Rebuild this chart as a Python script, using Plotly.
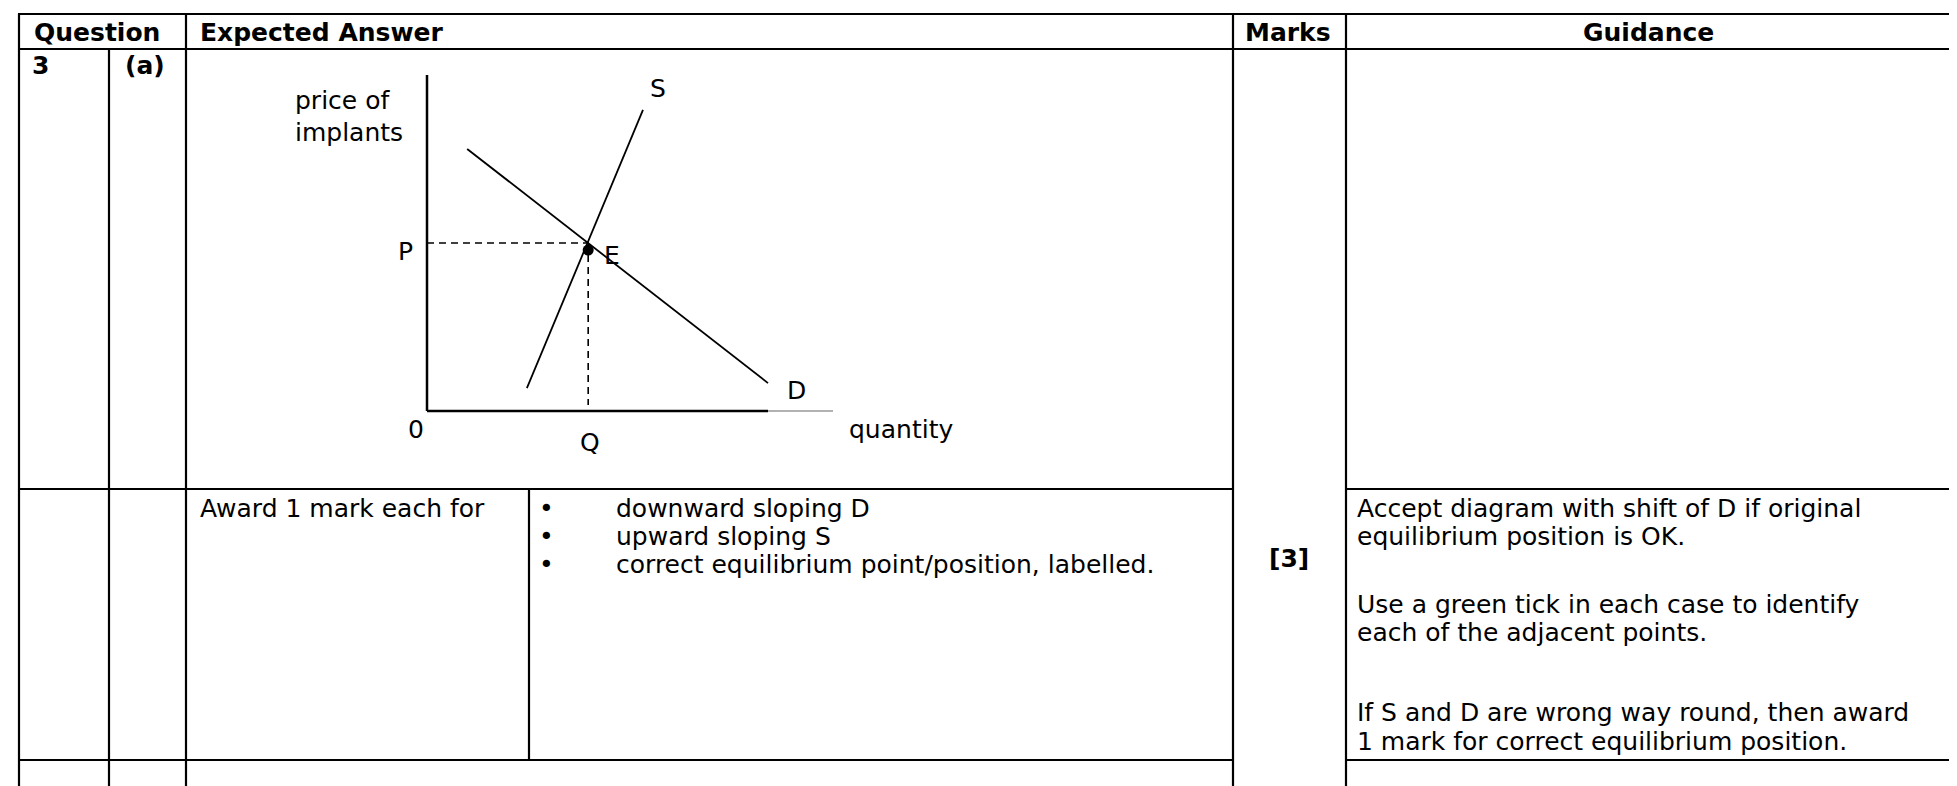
import plotly.graph_objects as go

W, H = 1957, 786

# ---------------- table content ----------------
header_labels = ["Question", "Expected Answer", "Marks", "Guidance"]
question_number = "3"
question_part = "(a)"
award_intro = "Award 1 mark each for"
award_points = [
    "downward sloping D",
    "upward sloping S",
    "correct equilibrium point/position, labelled.",
]
marks_text = "[3]"
guidance_lines = [
    "Accept diagram with shift of D if original",
    "equilibrium position is OK.",
    "Use a green tick in each case to identify",
    "each of the adjacent points.",
    "If S and D are wrong way round, then award",
    "1 mark for correct equilibrium position.",
]

# ---------------- diagram data (quantity / price units) ----------------
supply_q = [2.46, 5.32]
supply_p = [0.68, 8.96]
demand_q = [0.99, 8.40]
demand_p = [7.80, 0.83]
equilibrium_q = 3.97
equilibrium_p = 5.0
dot_q = [3.97]
dot_p = [4.79]
axis_top_p = 10.0
axis_end_q = 8.40
axis_ext_q = 10.0
q_dash_bottom_p = 0.18
y_axis_label = ["price of", "implants"]
x_axis_label = "quantity"
origin_label = "0"
price_label = "P"
quantity_label = "Q"
eq_label = "E"
supply_label = "S"
demand_label = "D"

# ---------------- layout constants (pixels) ----------------
FONT = "DejaVu Sans"
FS = 25
LINE = "black"
X_LEFT, X_Q2, X_EXP, X_INNER, X_MARKS, X_GUID, X_RIGHT = 11, 101, 178, 521, 1225, 1338, 1952
Y_TOP, Y_HEAD, Y_R1, Y_R2 = 6, 41, 481, 752


def fx(x):
    return x / W


def fy(y):
    return 1 - y / H


fig = go.Figure()

# diagram axes geometry: q=0 at px 419, q=10 at px 825 ; p=0 at px 403, p=10 at px 67
qpx = (825 - 419) / 10.0
ppx = (403 - 67) / 10.0
xr = [-4.0, 11.8]
yr = [-1.6, 10.6]
x_dom = [fx(419 + xr[0] * qpx), fx(419 + xr[1] * qpx)]
y_dom = [fy(403 - yr[0] * ppx), fy(403 - yr[1] * ppx)]

# axes lines
fig.add_trace(go.Scatter(x=[0, 0], y=[0, axis_top_p], mode="lines",
                         line=dict(color="black", width=2.5), hoverinfo="skip"))
fig.add_trace(go.Scatter(x=[0, axis_end_q], y=[0, 0], mode="lines",
                         line=dict(color="black", width=2.5), hoverinfo="skip"))
fig.add_trace(go.Scatter(x=[axis_end_q, axis_ext_q], y=[0, 0], mode="lines",
                         line=dict(color="#666666", width=1.2), hoverinfo="skip"))
# dashed guides
fig.add_trace(go.Scatter(x=[0, equilibrium_q], y=[equilibrium_p, equilibrium_p], mode="lines",
                         line=dict(color="black", width=1.6, dash="7px,5px"), hoverinfo="skip"))
fig.add_trace(go.Scatter(x=[equilibrium_q, equilibrium_q], y=[equilibrium_p, q_dash_bottom_p], mode="lines",
                         line=dict(color="black", width=1.6, dash="7px,5px"), hoverinfo="skip"))
# supply & demand
fig.add_trace(go.Scatter(x=supply_q, y=supply_p, mode="lines",
                         line=dict(color="black", width=1.8), hoverinfo="skip"))
fig.add_trace(go.Scatter(x=demand_q, y=demand_p, mode="lines",
                         line=dict(color="black", width=1.8), hoverinfo="skip"))
# equilibrium dot
fig.add_trace(go.Scatter(x=dot_q, y=dot_p, mode="markers",
                         marker=dict(color="black", size=11), hoverinfo="skip", cliponaxis=False))

annotations = []


def add_text(text, x, y, xanchor="left", size=FS, ref="paper"):
    annotations.append(dict(text=text, x=x, y=y, xref=ref if ref == "paper" else "x",
                            yref=ref if ref == "paper" else "y",
                            xanchor=xanchor, yanchor="middle", showarrow=False,
                            font=dict(family=FONT, size=size, color="black")))


# diagram labels (data coordinates)
add_text(supply_label, supply_q[1] + 0.37, supply_p[1] + 0.65, "center", ref="data")
add_text(demand_label, demand_q[1] + 0.71, demand_p[1] - 0.23, "center", ref="data")
add_text(price_label, -0.52, equilibrium_p - 0.24, "center", ref="data")
add_text(eq_label, equilibrium_q + 0.59, equilibrium_p - 0.36, "center", ref="data")
add_text(origin_label, -0.27, -0.55, "center", ref="data")
add_text(quantity_label, equilibrium_q + 0.04, -0.93, "center", ref="data")
add_text(x_axis_label, 10.35, -0.55, "left", ref="data")
add_text(y_axis_label[0], -3.3, 9.25, "left", ref="data")
add_text(y_axis_label[1], -3.3, 8.3, "left", ref="data")

# header
hy = (Y_TOP + Y_HEAD) / 2 + 1
add_text("<b>%s</b>" % header_labels[0], fx(89), fy(hy), "center")
add_text("<b>%s</b>" % header_labels[1], fx(190), fy(hy), "left")
add_text("<b>%s</b>" % header_labels[2], fx(1280), fy(hy), "center")
add_text("<b>%s</b>" % header_labels[3], fx(1640), fy(hy), "center")

# row 1
add_text("<b>%s</b>" % question_number, fx(22), fy(58), "left")
add_text("<b>%s</b>" % question_part, fx(115), fy(58), "left")

# row 2
bullet_y = [500, 528, 556]
add_text(award_intro, fx(190), fy(bullet_y[0]), "left")
for yy, txt in zip(bullet_y, award_points):
    add_text("\u2022", fx(538), fy(yy), "center")
    add_text(txt, fx(606), fy(yy), "left")
add_text("<b>%s</b>" % marks_text, fx(1281), fy(550), "center")
guid_y = [500, 528, 596, 624, 704, 733]
for yy, txt in zip(guid_y, guidance_lines):
    add_text(txt, fx(1347), fy(yy), "left")

# table lines
shapes = []


def hline(x0, x1, y):
    shapes.append(dict(type="line", xref="paper", yref="paper", x0=fx(x0), x1=fx(x1),
                       y0=fy(y), y1=fy(y), line=dict(color=LINE, width=2.2)))


def vline(x, y0, y1):
    shapes.append(dict(type="line", xref="paper", yref="paper", x0=fx(x), x1=fx(x),
                       y0=fy(y0), y1=fy(y1), line=dict(color=LINE, width=2.2)))


hline(X_LEFT - 1, X_RIGHT + 1, Y_TOP)
hline(X_LEFT - 1, X_RIGHT + 1, Y_HEAD)
for yy in (Y_R1, Y_R2):
    hline(X_LEFT - 1, X_MARKS, yy)
    hline(X_GUID, X_RIGHT + 1, yy)
vline(X_LEFT, Y_TOP, H)
vline(X_Q2, Y_HEAD, H)
vline(X_EXP, Y_TOP, H)
vline(X_INNER, Y_R1, Y_R2)
vline(X_MARKS, Y_TOP, H)
vline(X_GUID, Y_TOP, H)
vline(X_RIGHT, Y_TOP, H)

fig.update_layout(
    width=W, height=H,
    margin=dict(l=0, r=0, t=0, b=0),
    paper_bgcolor="white", plot_bgcolor="rgba(0,0,0,0)",
    showlegend=False,
    xaxis=dict(domain=x_dom, range=xr, visible=False, fixedrange=True),
    yaxis=dict(domain=y_dom, range=yr, visible=False, fixedrange=True),
    annotations=annotations,
    shapes=shapes,
    font=dict(family=FONT, size=FS, color="black"),
)

fig.write_html("out.html", config={"displayModeBar": False})
